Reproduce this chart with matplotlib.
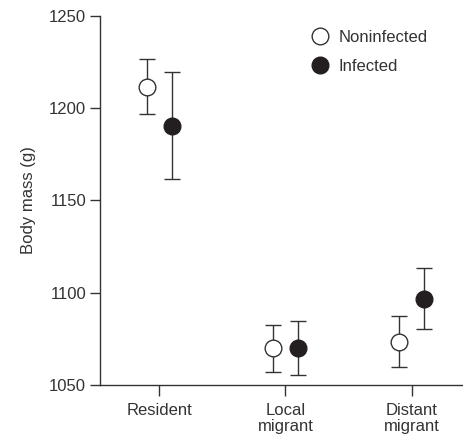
import matplotlib.pyplot as plt
import numpy as np

plt.rcParams['font.family'] = ['Liberation Sans', 'DejaVu Sans']

categories = ['Resident', 'Local\nmigrant', 'Distant\nmigrant']
noninf_mean = [1211.7, 1070.1, 1073.4]
noninf_low = [1196.7, 1056.9, 1059.8]
noninf_high = [1226.8, 1082.6, 1087.2]
inf_mean = [1190.2, 1070.1, 1096.7]
inf_low = [1161.6, 1055.3, 1080.0]
inf_high = [1219.5, 1084.8, 1113.3]

x = np.arange(len(categories))
dx = 0.1
grey = '#333333'
fs = 12

fig = plt.figure(figsize=(4.64, 4.40), dpi=100)
ax = fig.add_axes([0.2155, 0.1257, 0.7845, 0.8379])

nm = np.array(noninf_mean)
im = np.array(inf_mean)
ax.errorbar(x - dx, nm, yerr=[nm - np.array(noninf_low), np.array(noninf_high) - nm],
            fmt='o', mfc='white', mec=grey, ecolor=grey, color=grey, ms=12, mew=1.0,
            capsize=6, elinewidth=1.0, capthick=1.0, label='Noninfected')
ax.errorbar(x + dx, im, yerr=[im - np.array(inf_low), np.array(inf_high) - im],
            fmt='o', mfc='#231f20', mec='#231f20', ecolor=grey, color=grey, ms=12, mew=1.0,
            capsize=6, elinewidth=1.0, capthick=1.0, label='Infected')

ax.set_xlim(-0.47, 2.415)
ax.set_ylim(1050, 1250)
ax.set_yticks([1050, 1100, 1150, 1200, 1250])
ax.set_xticks(x)
ax.set_xticklabels(categories, fontsize=fs, color=grey, linespacing=1.1)
ax.tick_params(axis='y', labelsize=fs, labelcolor=grey, length=7, width=1, color=grey, pad=3)
ax.tick_params(axis='x', length=8, width=1, color=grey, pad=5)
for s in ['top', 'right']:
    ax.spines[s].set_visible(False)
for s in ['left', 'bottom']:
    ax.spines[s].set_color(grey)
    ax.spines[s].set_linewidth(1.0)

ax.set_ylabel('Body mass (g)', fontsize=fs, color=grey, labelpad=9)

handles, labels = ax.get_legend_handles_labels()
handles = [h[0] for h in handles]
ax.legend(handles, labels, loc='upper left', bbox_to_anchor=(0.545, 0.995), frameon=False,
          fontsize=fs, labelcolor=grey, handletextpad=0.5, labelspacing=0.85,
          handlelength=1.2, borderaxespad=0.3)

plt.savefig('out.png')
